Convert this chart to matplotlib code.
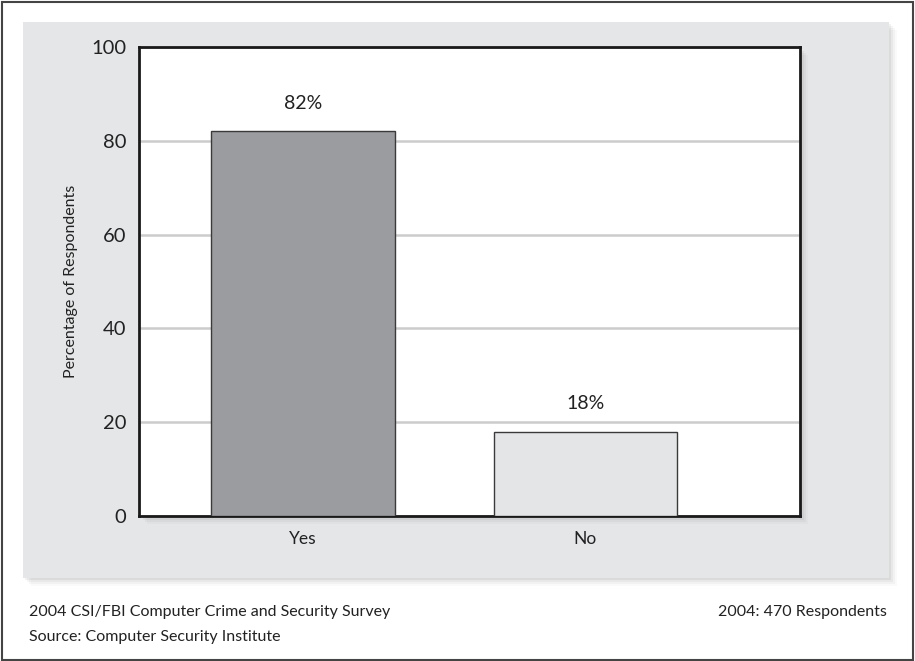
import matplotlib
matplotlib.use("Agg")
import matplotlib.pyplot as plt
from matplotlib.patches import Rectangle

plt.rcParams["font.family"] = ["Lato", "DejaVu Sans"]

categories = ["Yes", "No"]
percentages = [82, 18]
value_labels = ["82%", "18%"]
bar_colors = ["#9b9c9f", "#e4e5e7"]
y_ticks = [0, 20, 40, 60, 80, 100]

W, H = 915, 661

fig = plt.figure(figsize=(W / 100, H / 100), dpi=100)
fig.patch.set_facecolor("white")


def px_rect(x0, y0, x1, y1, **kw):
    # rectangle in pixel coordinates (top-left origin) -> figure fraction
    return Rectangle((x0 / W, 1 - y1 / H), (x1 - x0) / W, (y1 - y0) / H,
                     transform=fig.transFigure, zorder=-5, **kw)


# outer frame
fig.patches.append(px_rect(2, 2, 913, 660, facecolor="none",
                           edgecolor="#444444", linewidth=1.5))

# soft shadow of the grey panel
for i, a in enumerate([0.05, 0.04, 0.03, 0.02]):
    d = 2 + i * 2
    fig.patches.append(px_rect(23 + d, 22 + d, 889 + d, 578 + d,
                               facecolor="black", alpha=a, linewidth=0))
fig.patches.append(px_rect(23, 22, 889, 578, facecolor="#e5e6e8",
                           edgecolor="none"))

# shadow of the plot area
for i, a in enumerate([0.06, 0.045, 0.03, 0.02]):
    d = 2 + i * 2
    fig.patches.append(px_rect(139 + d, 47 + d, 800 + d, 516 + d,
                               facecolor="black", alpha=a, linewidth=0))

ax = fig.add_axes([139 / W, 1 - 516 / H, (800 - 139) / W, (516 - 47) / H])
ax.set_zorder(5)
ax.set_facecolor("white")

x = list(range(len(categories)))
ax.bar(x, percentages, width=0.65, color=bar_colors,
       edgecolor="#3a3a3a", linewidth=1.0, zorder=3)

for xi, v, lab in zip(x, percentages, value_labels):
    ax.annotate(lab, (xi, v), xytext=(0, 14), textcoords="offset points",
                ha="center", va="bottom", fontsize=14, color="#222222")

ax.set_xlim(-0.58, 1.76)
ax.set_ylim(0, 100)
ax.set_yticks(y_ticks)
ax.set_xticks(x)
ax.set_xticklabels(categories)
ax.tick_params(axis="both", length=0, labelsize=14.5, colors="#222222")
ax.tick_params(axis="y", pad=9)
ax.tick_params(axis="x", pad=11, labelsize=12.5)

ax.yaxis.grid(True, color="#cccccc", linewidth=1.8, zorder=0)
ax.set_axisbelow(True)

for s in ax.spines.values():
    s.set_color("#1a1a1a")
    s.set_linewidth(2)

ax.set_ylabel("Percentage of Respondents", fontsize=11.5, color="#222222")
ax.yaxis.set_label_coords(-0.092, 0.5)

fig.text(29 / W, 1 - 612 / H, "2004 CSI/FBI Computer Crime and Security Survey",
         ha="left", va="center", fontsize=11.5, color="#222222")
fig.text(29 / W, 1 - 637 / H, "Source: Computer Security Institute",
         ha="left", va="center", fontsize=11.5, color="#222222")
fig.text(887 / W, 1 - 612 / H, "2004: 470 Respondents",
         ha="right", va="center", fontsize=11.5, color="#222222")

fig.savefig("out.png", dpi=100)
